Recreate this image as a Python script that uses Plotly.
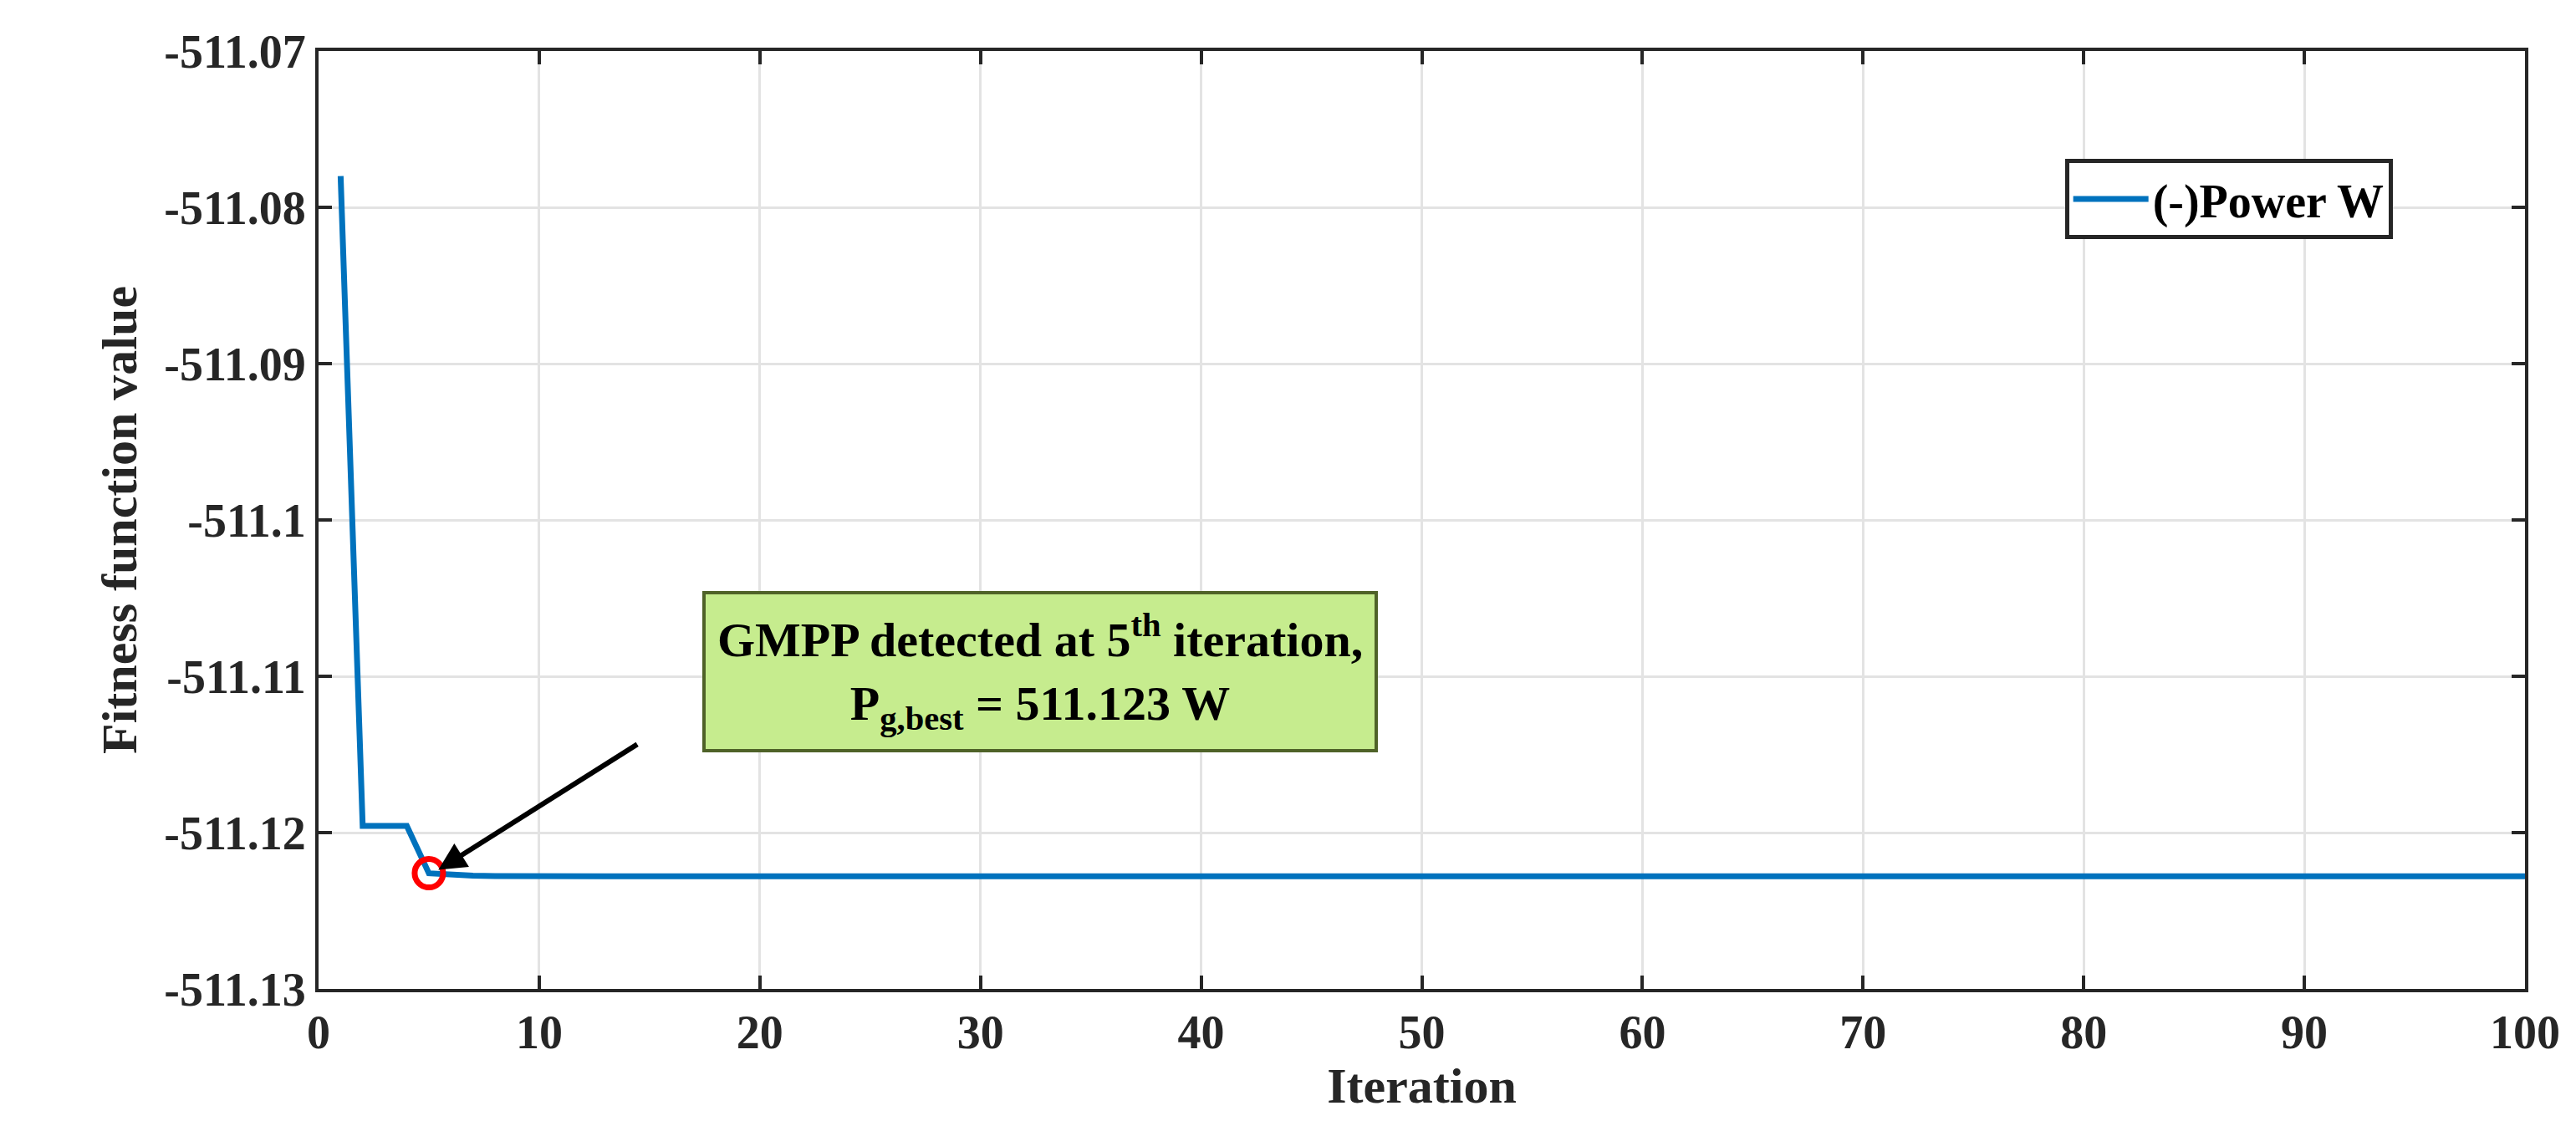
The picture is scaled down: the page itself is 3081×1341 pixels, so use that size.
import plotly.graph_objects as go

iterations = list(range(1, 101))
fitness = [-511.078, -511.11957, -511.11957, -511.11957, -511.1226, -511.12272,
           -511.12276, -511.12278, -511.1228] + [-511.1228] * 91
y_ticks = [-511.07, -511.08, -511.09, -511.10, -511.11, -511.12, -511.13]
y_tick_labels = ["-511.07", "-511.08", "-511.09", "-511.1", "-511.11", "-511.12", "-511.13"]
x_ticks = list(range(0, 101, 10))
gmpp_x, gmpp_y = 5, -511.1226

F = "Liberation Serif"
fig = go.Figure()
fig.add_trace(go.Scatter(x=iterations, y=fitness, mode="lines", name="<b>(-)Power W</b>",
                         line=dict(color="#0072BD", width=7)))
fig.add_trace(go.Scatter(x=[gmpp_x], y=[gmpp_y], mode="markers", showlegend=False,
                         marker=dict(symbol="circle-open", size=34, color="red", line=dict(width=7, color="red"))))
fig.add_annotation(x=gmpp_x + 0.3, y=gmpp_y + 0.0001, ax=14.5, ay=-511.1143, axref="x", ayref="y",
                   xref="x", yref="y", text="", showarrow=True, arrowhead=2, arrowsize=1.1,
                   arrowwidth=6, arrowcolor="black", standoff=4)
fig.add_annotation(x=32.7, y=-511.1097, xref="x", yref="y",
                   text="<b>GMPP detected at 5<sup>th</sup> iteration,<br>P<sub>g,best</sub> = 511.123 W</b>",
                   showarrow=False, bgcolor="#c6ec8e", bordercolor="#4f6228", borderwidth=4,
                   borderpad=14, font=dict(family=F, size=58, color="black"))

ax_common = dict(showline=True, linecolor="#262626", linewidth=4, mirror="ticks", ticks="inside",
                 ticklen=16, tickwidth=4, tickcolor="#262626", showgrid=True, gridcolor="#e3e3e3",
                 gridwidth=3, zeroline=False, tickfont=dict(family=F, size=56, color="#262626"))
fig.update_xaxes(range=[0, 100], tickvals=x_ticks, title=dict(text="<b>Iteration</b>", standoff=6,
                 font=dict(family=F, size=60, color="#262626")), **ax_common)
fig.update_yaxes(range=[-511.13, -511.07], tickvals=y_ticks, ticktext=["<b>%s</b>" % t for t in y_tick_labels],
                 title=dict(text="<b>Fitness function value</b>", standoff=14,
                 font=dict(family=F, size=60, color="#262626")), **ax_common)
fig.update_xaxes(ticktext=["<b>%d</b>" % v for v in x_ticks])
fig.update_layout(width=3081, height=1341, plot_bgcolor="white", paper_bgcolor="white",
                  margin=dict(l=373, r=69, t=53, b=166),
                  legend=dict(x=0.94, y=0.885, xanchor="right", yanchor="top", bgcolor="white",
                              bordercolor="#262626", borderwidth=5,
                              font=dict(family=F, size=56, color="black"), itemwidth=90))
fig.write_html("out.html")
